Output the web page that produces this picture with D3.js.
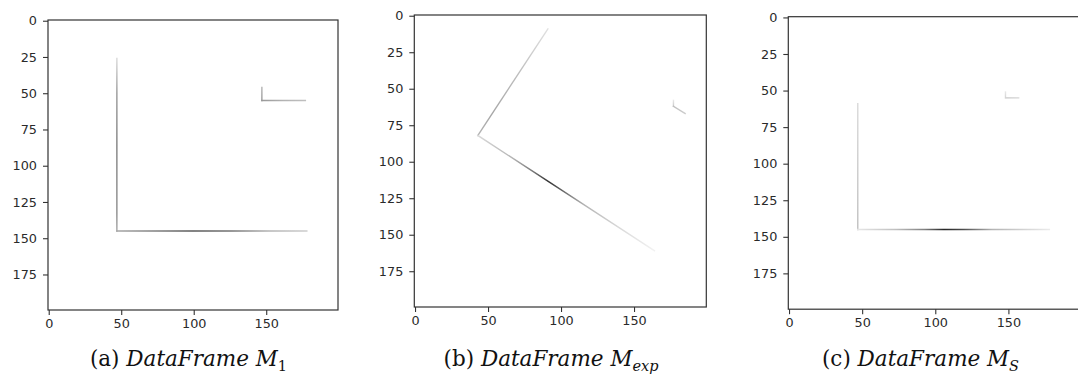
<!DOCTYPE html>
<html>
<head>
<meta charset="utf-8">
<script src="https://cdn.jsdelivr.net/npm/d3@7"></script>
<style>
  html, body { margin: 0; padding: 0; background: #fff; }
  svg { display: block; }
  .tick text { font-family: "DejaVu Sans", sans-serif; font-size: 12.8px; fill: #2a2a2a; }
  .caption { font-family: "DejaVu Serif", serif; font-size: 21.5px; fill: #111; }
</style>
</head>
<body>
<svg id="chart" width="1078" height="383"></svg>
<script>
// image is 200 x 200 pixels, shown like imshow
var xTicks = [0, 50, 100, 150];
var yTicks = [0, 25, 50, 75, 100, 125, 150, 175];

// strokes: start/end pixel, shade stops along the stroke (0 = white, 1 = black)
var strokesA = [
  {from: [47, 26], to: [47, 145], shade: [[0, 0.15], [0.2, 0.4], [0.5, 0.5], [0.9, 0.45], [1, 0.35]]},
  {from: [47, 145], to: [178, 145], shade: [[0, 0.35], [0.2, 0.5], [0.4, 0.65], [0.6, 0.55], [0.8, 0.3], [1, 0.2]]},
  {from: [147, 46], to: [147, 55], shade: [[0, 0.3], [1, 0.4]]},
  {from: [147, 55], to: [177, 55], shade: [[0, 0.4], [0.5, 0.3], [1, 0.25]]}
];
var strokesB = [
  {from: [91, 9], to: [43, 82], shade: [[0, 0.12], [0.4, 0.25], [0.8, 0.35], [1, 0.3]]},
  {from: [43, 82], to: [164, 161], shade: [[0, 0.15], [0.2, 0.3], [0.32, 0.55], [0.4, 0.8], [0.48, 0.6], [0.6, 0.3], [0.8, 0.15], [1, 0.05]]},
  {from: [177, 58], to: [177, 62], shade: [[0, 0.1], [1, 0.2]]},
  {from: [177, 62], to: [185, 67], shade: [[0, 0.25], [1, 0.2]]}
];
var strokesC = [
  {from: [47, 59], to: [47, 145], shade: [[0, 0.15], [0.5, 0.2], [1, 0.25]]},
  {from: [47, 145], to: [178, 145], shade: [[0, 0.1], [0.2, 0.25], [0.35, 0.5], [0.45, 0.85], [0.55, 0.7], [0.7, 0.3], [1, 0.08]]},
  {from: [148, 51], to: [148, 54], shade: [[0, 0.1], [1, 0.15]]},
  {from: [148, 55], to: [157, 55], shade: [[0, 0.2], [1, 0.15]]}
];

var panelLabels = ["(a)", "(b)", "(c)"];
var panelSubs = ["1", "exp", "S"];

var panels = [
  {left: 48, top: 20, size: 290, strokes: strokesA, label: panelLabels[0], sub: panelSubs[0], subItalic: false, cx: 188.5},
  {left: 414.3, top: 15, size: 292, strokes: strokesB, label: panelLabels[1], sub: panelSubs[1], subItalic: true, cx: 551},
  {left: 788.3, top: 16.7, size: 292.5, strokes: strokesC, label: panelLabels[2], sub: panelSubs[2], subItalic: true, cx: 920.5}
];

var svg = d3.select("#chart");
var defs = svg.append("defs");
var shadeColor = d3.scaleLinear().domain([0, 1]).range(["#ffffff", "#000000"]);

panels.forEach(function(p, pi) {
  var x = d3.scaleLinear().domain([-0.5, 199.5]).range([p.left, p.left + p.size]);
  var y = d3.scaleLinear().domain([-0.5, 199.5]).range([p.top, p.top + p.size]);
  var g = svg.append("g");

  // pixel strokes
  p.strokes.forEach(function(s, si) {
    var id = "grad" + pi + "_" + si;
    var grad = defs.append("linearGradient")
      .attr("id", id)
      .attr("gradientUnits", "userSpaceOnUse")
      .attr("x1", x(s.from[0])).attr("y1", y(s.from[1]))
      .attr("x2", x(s.to[0])).attr("y2", y(s.to[1]));
    grad.selectAll("stop").data(s.shade).enter().append("stop")
      .attr("offset", function(d) { return d[0]; })
      .attr("stop-color", function(d) { return shadeColor(d[1]); });
    g.append("line")
      .attr("x1", x(s.from[0])).attr("y1", y(s.from[1]))
      .attr("x2", x(s.to[0])).attr("y2", y(s.to[1]))
      .attr("stroke", "url(#" + id + ")")
      .attr("stroke-width", 1.4)
      .attr("stroke-linecap", "square");
  });

  // frame
  g.append("rect")
    .attr("x", p.left).attr("y", p.top)
    .attr("width", p.size).attr("height", p.size)
    .attr("fill", "none").attr("stroke", "#333").attr("stroke-width", 1.2);

  // axes
  var xAxis = d3.axisBottom(x).tickValues(xTicks).tickSize(5).tickPadding(4);
  var yAxis = d3.axisLeft(y).tickValues(yTicks).tickSize(5).tickPadding(6);
  var gx = g.append("g").attr("transform", "translate(0," + (p.top + p.size) + ")").call(xAxis);
  var gy = g.append("g").attr("transform", "translate(" + p.left + ",0)").call(yAxis);
  [gx, gy].forEach(function(a) {
    a.select(".domain").remove();
    a.selectAll(".tick line").attr("stroke", "#333").attr("stroke-width", 1.1);
    a.attr("font-size", null).attr("font-family", null);
  });

  // caption
  var t = svg.append("text").attr("class", "caption")
    .attr("x", p.cx).attr("y", 366).attr("text-anchor", "middle");
  t.append("tspan").text(p.label + " ");
  t.append("tspan").attr("font-style", "italic").text("DataFrame M");
  t.append("tspan")
    .attr("font-style", p.subItalic ? "italic" : "normal")
    .attr("font-size", "14.5px").attr("dy", 5).text(p.sub);
});
</script>
</body>
</html>
